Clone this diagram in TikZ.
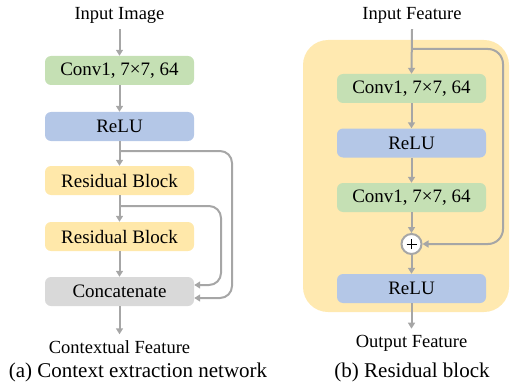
\documentclass[tikz,border=0pt]{standalone}
\usepackage{fontspec}
\setmainfont{Liberation Serif}
\usetikzlibrary{arrows.meta}
\definecolor{cgreen}{HTML}{C5E0B4}
\definecolor{cblue}{HTML}{B4C7E7}
\definecolor{cyellow}{HTML}{FFE8AA}
\definecolor{cpanel}{HTML}{FFE9B0}
\definecolor{cgray}{HTML}{D9D9D9}
\definecolor{lgray}{HTML}{A6A6A6}
\begin{document}
\begin{tikzpicture}[x=1pt,y=-1pt,
  box/.style={rounded corners=6pt, minimum width=149pt, minimum height=29pt, inner sep=0pt, font=\fontsize{19}{19}\selectfont},
  lbl/.style={font=\fontsize{18.5}{20}\selectfont, inner sep=2pt},
  capt/.style={font=\fontsize{21}{22}\selectfont, inner sep=0pt},
  ln/.style={draw=lgray, line width=2pt},
  arr/.style={ln, -{Triangle[length=6pt,width=7pt]}}]
\useasboundingbox (0,0) rectangle (516,385);
% right panel background
\node[fill=cpanel, rounded corners=25pt, minimum width=206pt, minimum height=272pt, inner sep=0pt] (panel) at (406,176) {};
% left column
\node[lbl] (inA) at (119.5,15) {Input Image};
\node[box,fill=cgreen] (convA) at (119.5,70.5) {Conv1, 7×7, 64};
\node[box,fill=cblue] (reluA) at (119.5,126.5) {ReLU};
\node[box,fill=cyellow] (rb1) at (119.5,180.5) {Residual Block};
\node[box,fill=cyellow] (rb2) at (119.5,236.5) {Residual Block};
\node[box,fill=cgray] (cat) at (119.5,291.5) {Concatenate};
\node[lbl] (outA) at (119.5,347) {Contextual Feature};
\node[capt] (capA) at (138,372) {(a) Context extraction network};
\draw[arr] ([yshift=-4pt]inA.south) -- (convA.north);
\draw[arr] (convA) -- (reluA);
\draw[arr] (reluA) -- (rb1);
\draw[arr] (rb1) -- (rb2);
\draw[arr] (rb2) -- (cat);
\draw[arr] (cat.south) -- ([yshift=4pt]outA.north);
\coordinate (b1) at (119.5,151);
\coordinate (b2) at (119.5,206);
\draw[arr, rounded corners=12pt] (b1) -- (232,151) -- (232,298) -- ([yshift=-6.5pt]cat.east);
\draw[arr, rounded corners=12pt] (b2) -- (221,206) -- (221,285) -- ([yshift=6.5pt]cat.east);
% right column
\node[lbl] (inB) at (412,15) {Input Feature};
\node[box,fill=cgreen] (convB1) at (411.5,88.5) {Conv1, 7×7, 64};
\node[box,fill=cblue] (reluB1) at (411.5,143) {ReLU};
\node[box,fill=cgreen] (convB2) at (411.5,197.5) {Conv1, 7×7, 64};
\node[circle, draw=lgray, fill=white, line width=2pt, minimum size=20pt, inner sep=0pt] (plus) at (411.5,244) {};
\draw[line width=0.7pt] ([xshift=-5pt]plus.center) -- ([xshift=5pt]plus.center)
  ([yshift=-5pt]plus.center) -- ([yshift=5pt]plus.center);
\node[box,fill=cblue] (reluB2) at (411.5,288.5) {ReLU};
\node[lbl] (outB) at (411.5,343) {Output Feature};
\node[capt] (capB) at (412,372) {(b) Residual block};
\draw[arr] ([yshift=-4pt]inB.south) -- (convB1.north);
\draw[arr] (convB1) -- (reluB1);
\draw[arr] (reluB1) -- (convB2);
\draw[arr] (convB2) -- (plus);
\draw[arr] (plus) -- (reluB2);
\draw[arr] (reluB2.south) -- ([yshift=4pt]outB.north);
\coordinate (b3) at (411.5,49);
\draw[arr, rounded corners=15pt] (b3) -- (503,49) -- (503,244) -- (plus.east);
\end{tikzpicture}
\end{document}
